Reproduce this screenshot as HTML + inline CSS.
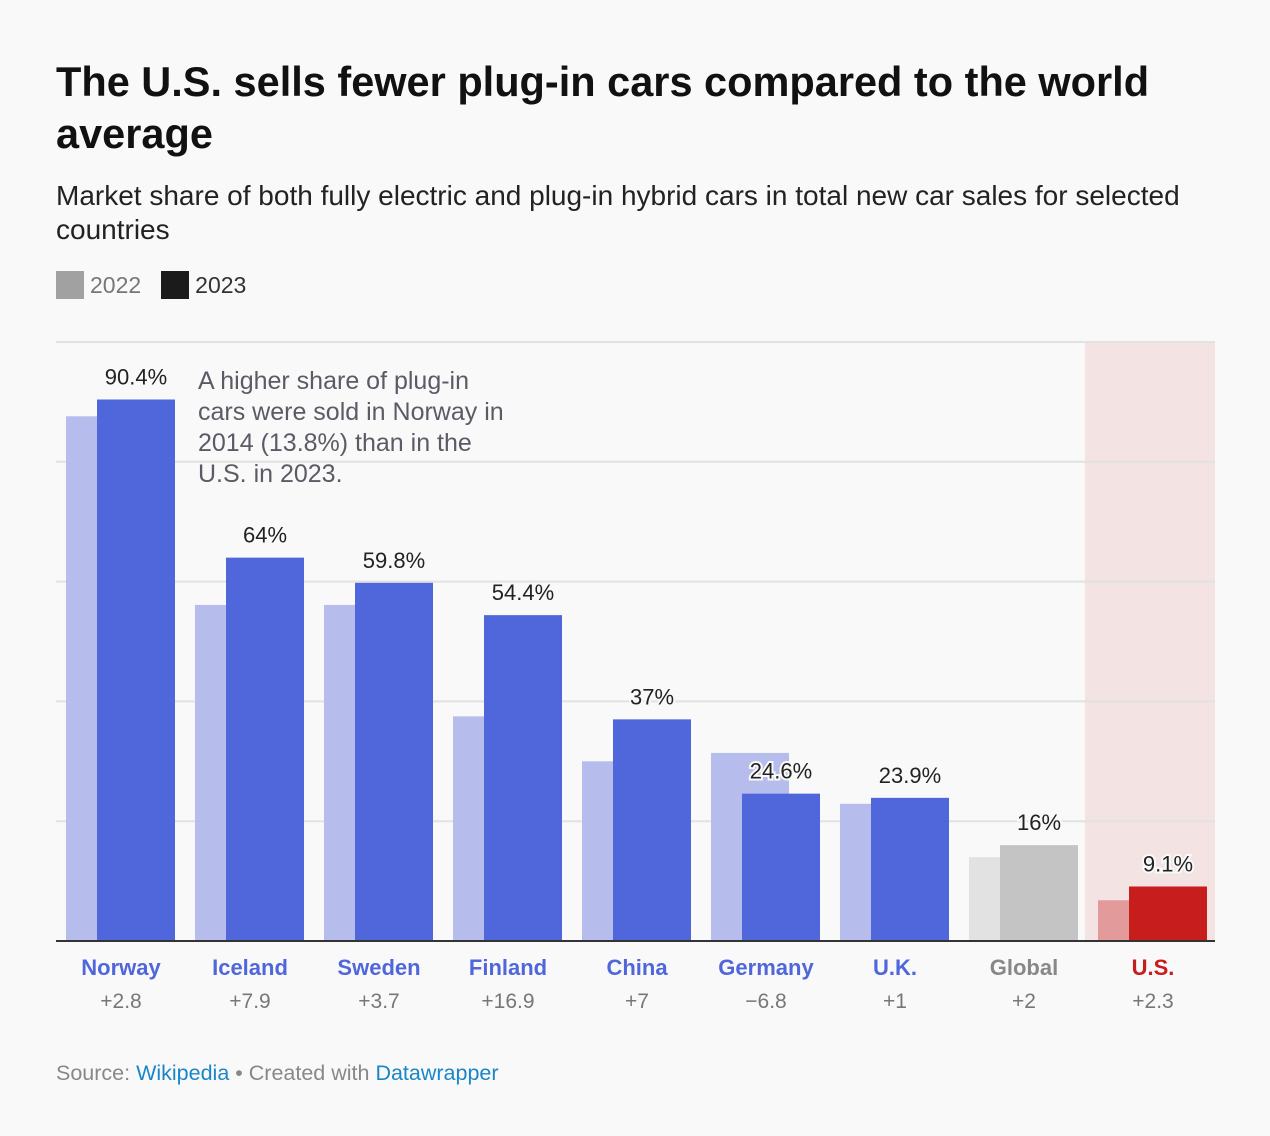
<!DOCTYPE html>
<html><head><meta charset="utf-8"><style>
body{margin:0;background:#f9f9f9;font-family:"Liberation Sans",Arial,sans-serif;width:1270px;height:1136px;overflow:hidden;position:relative}
.t{position:absolute;left:56px;margin:0}
</style></head><body>
<h1 class="t" style="top:56px;font-size:41.5px;line-height:52px;font-weight:bold;color:#111;width:1170px">The U.S. sells fewer plug-in cars compared to the world average</h1>
<div class="t" style="top:179px;font-size:28px;line-height:34px;color:#222;width:1150px">Market share of both fully electric and plug-in hybrid cars in total new car sales for selected countries</div>
<div class="t" style="top:271px;font-size:23px;color:#333;display:flex;align-items:center">
<span style="width:28px;height:28px;background:#a1a1a1;display:inline-block;margin-right:6px"></span><span style="color:#777;margin-right:20px">2022</span>
<span style="width:28px;height:28px;background:#1b1b1b;display:inline-block;margin-right:6px"></span><span>2023</span></div>
<svg id="chart" width="1270" height="1136" style="position:absolute;left:0;top:0"></svg>
<div class="t" style="top:1061px;font-size:21.5px;color:#888">Source: <span style="color:#1a86c8">Wikipedia</span> • Created with <span style="color:#1a86c8">Datawrapper</span></div>
<script>
const categories=["Norway","Iceland","Sweden","Finland","China","Germany","U.K.","Global","U.S."];
const values2022=[87.6,56.1,56.1,37.5,30,31.4,22.9,14,6.8];
const values2023=[90.4,64,59.8,54.4,37,24.6,23.9,16,9.1];
const changes=["+2.8","+7.9","+3.7","+16.9","+7","−6.8","+1","+2","+2.3"];
const gridTicks=[0,20,40,60,80,100];
const NS="http://www.w3.org/2000/svg",svg=document.getElementById('chart');
const y=v=>941-v*5.99, x=i=>66+i*129;
function mk(t,a,p){const e=document.createElementNS(NS,t);for(const k in a)e.setAttribute(k,a[k]);(p||svg).appendChild(e);return e;}
const hl=mk('rect',{x:1085,y:342,width:130,height:599,fill:'#f3e3e2'});


gridTicks.slice(1).forEach(t=>{const g=mk('line',{x1:56,x2:1215,y1:y(t),y2:y(t),stroke:'#e2e2e2','stroke-width':2});

});
const note=mk('text',{x:198,y:389,'font-size':25,fill:'#5b5b66'});


["A higher share of plug-in","cars were sold in Norway in","2014 (13.8%) than in the","U.S. in 2023."].forEach((s,i)=>{const ts=mk('tspan',{x:198,dy:i?31:0},note);ts.textContent=s;});
categories.forEach((c,i)=>{
 const cl=i==7?['#e2e2e2','#c4c4c4','#888']:i==8?['#e39a9a','#c71e1d','#c71e1d']:['#b6bdec','#5066db','#5066db'];
 const b1=mk('rect',{x:x(i),y:y(values2022[i]),width:78,height:941-y(values2022[i]),fill:cl[0]});
 
 
 const b2=mk('rect',{x:x(i)+31,y:y(values2023[i]),width:78,height:941-y(values2023[i]),fill:cl[1]});
 
 
 const vl=mk('text',{x:x(i)+70,y:y(values2023[i])-15,'text-anchor':'middle','font-size':22,fill:'#222',stroke:'#f9f9f9','stroke-width':4,'paint-order':'stroke'});
 vl.textContent=values2023[i]+'%';
 
 
 const nl=mk('text',{x:x(i)+55,y:975,'text-anchor':'middle','font-size':22,'font-weight':'bold',fill:cl[2]});
 nl.textContent=c;
 
 
 const ch=mk('text',{x:x(i)+55,y:1008,'text-anchor':'middle','font-size':21,fill:'#777'});
 ch.textContent=changes[i];
 
 
});
const ax=mk('line',{x1:56,x2:1215,y1:941,y2:941,stroke:'#333','stroke-width':2});


</script>
</body></html>
